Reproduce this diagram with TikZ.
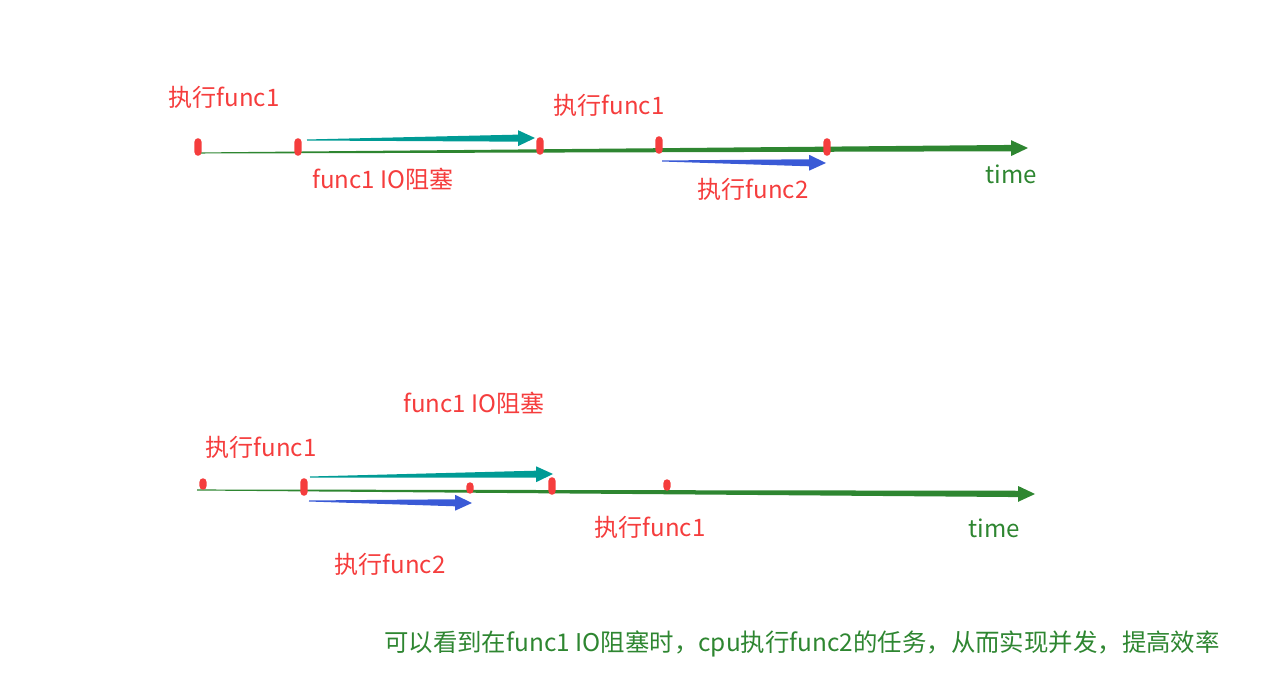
\documentclass[tikz,border=0pt]{standalone}
\usepackage{fontspec}
\newfontfamily\cjk{Noto Sans CJK SC}
\usetikzlibrary{calc,positioning}
\definecolor{tlred}{HTML}{F53D3D}
\definecolor{tlgreen}{HTML}{2E8631}
\definecolor{tlteal}{HTML}{009B95}
\definecolor{tlblue}{HTML}{3A5AD6}
\tikzset{
  tlmark/.style={fill=tlred, rounded corners=2pt, minimum width=4pt, minimum height=10pt, inner sep=0pt},
  tldot/.style={fill=tlred, rounded corners=2pt, minimum width=4pt, minimum height=6.5pt, inner sep=0pt},
  tllabel/.style={text=tlred, font=\cjk\fontsize{13.7}{15}\selectfont, inner sep=0pt},
  tltime/.style={text=tlgreen, font=\cjk\fontsize{13.7}{15}\selectfont, inner sep=0pt},
  tlnote/.style={text=tlgreen, font=\cjk\fontsize{13.9}{15}\selectfont, inner sep=0pt},
}
% tapered arrow: style, from, to, shaft half width, head half width, head length
\newcommand{\TLarrow}[6]{%
  \coordinate (tlh) at ($(#3)!#6!(#2)$);
  \fill[#1] ($(#2)!0.3pt!90:(#3)$) -- ($(tlh)!#4!90:(#3)$) -- ($(tlh)!#5!90:(#3)$)
    -- (#3) -- ($(tlh)!#5!-90:(#3)$) -- ($(tlh)!#4!-90:(#3)$) -- ($(#2)!0.3pt!-90:(#3)$) -- cycle;}

\begin{document}
\begin{tikzpicture}[x=0.02cm,y=-0.02cm]
  \useasboundingbox (0,0) rectangle (1261,688);

  % first timeline: func1 waits, cpu idle
  \coordinate (t1s) at (198,153);
  \coordinate (t1e) at (1028,148);
  \TLarrow{tlgreen}{t1s}{t1e}{1.8pt}{4.5pt}{9.6pt}
  \node[tlmark] (m11) at (198,147) {};
  \node[tlmark] (m12) at (298,147) {};
  \node[tlmark] (m13) at (540,146) {};
  \node[tlmark] (m14) at (659,145) {};
  \node[tlmark] (m15) at (827,147) {};
  \coordinate (io1s) at (307,140);
  \coordinate (io1e) at (535,138);
  \TLarrow{tlteal}{io1s}{io1e}{2pt}{4.5pt}{9.6pt}
  \coordinate (f21s) at (662,161);
  \coordinate (f21e) at (826,163);
  \TLarrow{tlblue}{f21s}{f21e}{2pt}{4.5pt}{9.6pt}
  \node[tllabel] (l11) at (224,97) {执行func1};
  \node[tllabel] (l12) at (609,105) {执行func1};
  \node[tllabel] (l13) at (383,179) {func1 IO阻塞};
  \node[tllabel] (l14) at (753,189) {执行func2};
  \node[tltime] (time1) at (1011,174) {time};

  % second timeline: func2 runs during the IO wait
  \coordinate (t2s) at (197,490);
  \coordinate (t2e) at (1035,494);
  \TLarrow{tlgreen}{t2s}{t2e}{1.8pt}{4.5pt}{9.6pt}
  \node[tldot] (m21) at (203,484) {};
  \node[tlmark] (m22) at (304,487) {};
  \node[tldot] (m23) at (470,488) {};
  \node[tlmark] (m24) at (552,486) {};
  \node[tldot] (m25) at (667,485) {};
  \coordinate (io2s) at (310,477);
  \coordinate (io2e) at (553,474);
  \TLarrow{tlteal}{io2s}{io2e}{2pt}{4.5pt}{9.6pt}
  \coordinate (f22s) at (309,501);
  \coordinate (f22e) at (472,503);
  \TLarrow{tlblue}{f22s}{f22e}{2pt}{4.5pt}{9.6pt}
  \node[tllabel] (l21) at (474,403) {func1 IO阻塞};
  \node[tllabel] (l22) at (261,447) {执行func1};
  \node[tllabel] (l23) at (650,527) {执行func1};
  \node[tllabel] (l24) at (390,564) {执行func2};
  \node[tltime] (time2) at (994,528) {time};

  \node[tlnote] (note) at (802,644) {可以看到在func1 IO阻塞时，cpu执行func2的任务，从而实现并发，提高效率};
\end{tikzpicture}
\end{document}
